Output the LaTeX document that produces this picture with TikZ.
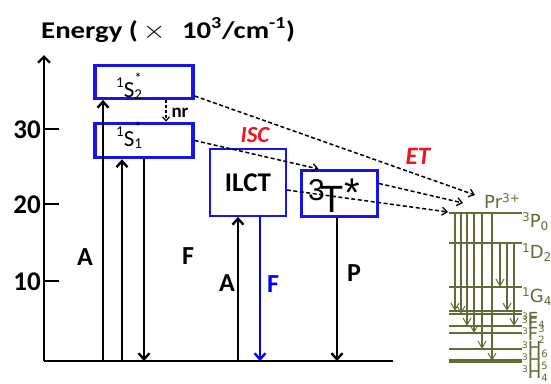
\documentclass[tikz,border=0pt]{standalone}
\usepackage{fontspec}
\setmainfont{Carlito}
\newfontfamily\djv{DejaVu Sans}
\newfontfamily\lib{Liberation Sans}
\usetikzlibrary{arrows.meta}
\definecolor{boxblue}{RGB}{20,20,235}
\definecolor{fblue}{RGB}{0,0,255}
\definecolor{olv}{RGB}{95,110,55}
\definecolor{etred}{RGB}{240,20,30}
\newcommand{\fs}[1]{\fontsize{#1}{#1}\selectfont}
\begin{document}
\begin{tikzpicture}[x=1pt,y=-1pt,
 sbox/.style={draw=boxblue,line width=3.3pt,minimum width=98pt,inner sep=0pt},
 ibox/.style={draw=boxblue,line width=1.8pt,inner sep=0pt},
 blkarr/.style={line width=2.4pt,-{Straight Barb[length=6pt,width=11pt]}},
 blkline/.style={line width=2.4pt},
 darr/.style={line width=1.5pt,dash pattern=on 4pt off 2.5pt,-{Straight Barb[length=5pt,width=8pt,line width=1.3pt]}},
 prarr/.style={draw=olv,line width=1.1pt,-{Straight Barb[length=7pt,width=8pt,line width=1pt]}},
 levline/.style={draw=olv,line width=2pt},
 biglab/.style={font=\bfseries\fs{26},inner sep=0pt},
 ticklab/.style={font=\bfseries\fs{27},inner sep=0pt,anchor=east},
 prlab/.style={font=\djv\fs{18},text=olv,anchor=base west,inner sep=0pt},
 redlab/.style={font=\bfseries\itshape\fs{23},text=etred,inner sep=0pt},
]
\useasboundingbox (0,0) rectangle (551,383);

% title
\node[anchor=base west,font=\bfseries\fs{24},inner sep=0pt] (title) at (41,38)
  {\scalebox{1.2}[1]{Energy (\,{\mdseries\fs{28}$\times$}\,\, 10\textsuperscript{3}/cm\textsuperscript{-1})}};

% axis
\coordinate (o) at (44,361);
\coordinate (top) at (44,55);
\coordinate (gr) at (393,361);
\draw[blkline,-{Straight Barb[length=6pt,width=12pt]}] (o) -- (top);
\draw[blkline] (o) -- (gr);
\foreach \yy/\tt in {129/30,204/20,281/10}{
  \draw[blkline] (44,\yy) -- (59,\yy);
  \node[ticklab] (t\tt) at (41,\yy+1) {\tt};
}

% boxes
\node[sbox,minimum height=32.6pt] (S2) at (144,82) {};
\node[sbox,minimum height=34.4pt] (S1) at (144,140.5) {};
\node[ibox,minimum width=76pt,minimum height=67pt,font=\bfseries\fs{27}] (I) at (248,182.5) {ILCT};
\node[sbox,line width=3pt,minimum width=76pt,minimum height=46pt] (T) at (339.5,193.5) {};

\node[anchor=base west,inner sep=0pt,font=\fs{23}] (s2t) at (116,97)
  {{\fs{15}\raisebox{10pt}{1}}S\rlap{\raisebox{14pt}{\fs{15}*}}{\fs{15}\raisebox{-2pt}{2}}};
\node[anchor=base west,inner sep=0pt,font=\fs{23}] (s1t) at (116,146.5)
  {{\fs{15}\raisebox{10pt}{1}}S\rlap{\raisebox{14pt}{\fs{15}*}}{\fs{15}\raisebox{-2pt}{1}}};
\node[anchor=base west,inner sep=0pt,font=\lib] (tt) at (308,212)
  {{\fs{30}\raisebox{12pt}{3}}\kern-4pt{\fs{38}T}{\fs{40}\raisebox{6pt}{*}}};

% vertical transitions
\coordinate (g1) at (103,361);
\coordinate (g2) at (122,361);
\coordinate (g3) at (144,361);
\coordinate (g4) at (238,361);
\coordinate (g5) at (260,361);
\coordinate (g6) at (337,361);
\draw[blkarr] (g1) -- (g1 |- S2.south);
\draw[blkarr] (g2) -- (g2 |- S1.south);
\draw[blkarr] (g3 |- S1.south) -- (g3);
\draw[blkarr] (g4) -- (g4 |- I.south);
\draw[blkarr,draw=fblue] (g5 |- I.south) -- (g5);
\draw[blkarr] (g6 |- T.south) -- (g6);

\node[biglab] (A1) at (85,257) {A};
\node[biglab] (F1) at (188,256) {F};
\node[biglab] (A2) at (227,283) {A};
\node[biglab,text=fblue] (F2) at (273,284) {F};
\node[biglab] (P1) at (354,273) {P};

% nr
\coordinate (nrx) at (166,0);
\draw[line width=1.3pt,dash pattern=on 3pt off 2pt,-{Straight Barb[length=4pt,width=7pt,line width=1.2pt]}] (nrx |- S2.south) -- (nrx |- S1.north);
\node[font=\bfseries\fs{19},inner sep=0pt] (nr) at (180,113) {nr};

% red labels
\node[redlab] (isc) at (255,135) {ISC};
\node[redlab,font=\bfseries\itshape\fs{25}] (et) at (418,156) {ET};

% Pr3+ levels
\coordinate (P0) at (449,213);
\coordinate (D2) at (449,243);
\coordinate (G4) at (449,287);
\coordinate (F4) at (449,311);
\coordinate (F3) at (449,314);
\coordinate (F2) at (449,326);
\coordinate (H6) at (449,333);
\coordinate (H5) at (449,349);
\coordinate (H4) at (449,361);
\foreach \c in {P0,D2,G4,F4,F3,F2,H6,H5}{\draw[levline] (\c) -- ++(73,0);}
\draw[levline,line width=3.5pt] (H4) -- ++(73,0);

\draw[prarr] ([xshift=6pt]P0) -- ([xshift=6pt]F4);
\draw[prarr] ([xshift=12pt]P0) -- ([xshift=12pt]F3);
\draw[prarr] ([xshift=18pt]P0) -- ([xshift=18pt]F2);
\draw[prarr] ([xshift=25pt]P0) -- ([xshift=25pt]H6);
\draw[prarr] ([xshift=33pt]P0) -- ([xshift=33pt]H5);
\draw[prarr] ([xshift=43pt]P0) -- ([xshift=43pt]H4);
\draw[prarr] ([xshift=51pt]D2) -- ([xshift=51pt]G4);
\draw[prarr] ([xshift=58pt]D2) -- ([xshift=58pt]F4);
\draw[prarr] ([xshift=65pt]D2) -- ([xshift=65pt]F2);

\node[prlab] (pr) at (484,208) {Pr\raisebox{6pt}{\fs{12}3+}};
\node[prlab] (lP0) at (522,227) {\raisebox{6pt}{\fs{12}3}P\raisebox{-3pt}{\fs{12}0}};
\node[prlab] (lD2) at (522,258) {\raisebox{6pt}{\fs{12}1}D\raisebox{-3pt}{\fs{12}2}};
\node[prlab] (lG4) at (522,302) {\raisebox{6pt}{\fs{12}1}G\raisebox{-3pt}{\fs{12}4}};
\node[prlab] (lF4) at (522,325) {\raisebox{6pt}{\fs{9}3}F\raisebox{-3pt}{\fs{10}4}};
\node[prlab] (lF3) at (522,329) {\raisebox{6pt}{\fs{9}3}F\raisebox{-3pt}{\fs{10}3}};
\node[prlab] (lF2) at (522,340) {\raisebox{6pt}{\fs{9}3}F\raisebox{-3pt}{\fs{10}2}};
\node[prlab] (lH6) at (522,354) {\raisebox{6pt}{\fs{9}3}H\raisebox{-3pt}{\fs{10}6}};
\node[prlab] (lH5) at (522,366) {\raisebox{6pt}{\fs{9}3}H\raisebox{-3pt}{\fs{10}5}};
\node[prlab] (lH4) at (522,378) {\raisebox{6pt}{\fs{9}3}H\raisebox{-3pt}{\fs{10}4}};

% energy transfer / ISC dashed arrows
\coordinate (e1) at (475,195);
\coordinate (e2) at (463,203);
\coordinate (e3) at (448,212);
\draw[darr] ([yshift=-14pt]S2.east) -- (e1);
\draw[darr] (S1.east) -- ([xshift=-21pt]T.north);
\draw[darr] ([yshift=-7.5pt]I.east) -- (e3);
\draw[darr] ([yshift=10pt]T.east) -- (e2);
\end{tikzpicture}
\end{document}
